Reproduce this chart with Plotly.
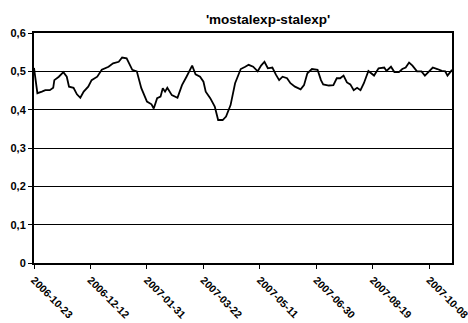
import pandas as pd
import plotly.graph_objects as go

START = "2006-10-23"
day_offsets = [0, 3, 7, 10, 14, 17, 18, 22, 26, 29, 31, 35, 38, 41, 44, 48, 51, 56, 60, 66, 70, 75, 78, 82, 87, 91,
               95, 100, 104, 106, 109, 112, 114, 116, 118, 122, 127, 131, 135, 140, 143, 147, 150, 152, 156, 160,
               163, 167, 170, 174, 178, 183, 187, 190, 194, 198, 201, 204, 207, 211, 214, 217, 220, 224, 227, 231,
               236, 239, 242, 246, 251, 254, 256, 261, 265, 268, 271, 274, 277, 280, 283, 286, 289, 292, 296, 301,
               305, 310, 312, 316, 319, 323, 326, 329, 332, 335, 339, 343, 346, 350, 353, 357, 361, 364, 366, 369, 370]
values = [0.509, 0.443, 0.447, 0.451, 0.451, 0.457, 0.477, 0.486, 0.498, 0.486, 0.460, 0.457, 0.440, 0.431, 0.447,
          0.460, 0.477, 0.486, 0.504, 0.512, 0.521, 0.525, 0.536, 0.534, 0.504, 0.500,
          0.456, 0.421, 0.414, 0.403, 0.430, 0.434, 0.456, 0.447, 0.457, 0.438, 0.431, 0.464, 0.486, 0.515, 0.492,
          0.486, 0.473, 0.447, 0.430, 0.408, 0.373, 0.373, 0.382, 0.412, 0.469, 0.506, 0.512, 0.517, 0.512, 0.500,
          0.515, 0.525, 0.508, 0.510, 0.492, 0.477, 0.486, 0.482, 0.469, 0.460, 0.453, 0.464, 0.495, 0.506, 0.504,
          0.477, 0.466, 0.463, 0.464, 0.482, 0.482, 0.489, 0.471, 0.466, 0.451, 0.457, 0.451, 0.469, 0.501, 0.489,
          0.508, 0.510, 0.501, 0.512, 0.498, 0.498, 0.506, 0.510, 0.523, 0.515, 0.500, 0.500, 0.489, 0.500, 0.510,
          0.506, 0.501, 0.500, 0.489, 0.500, 0.504]

tick_dates = ["2006-10-23", "2006-12-12", "2007-01-31", "2007-03-22", "2007-05-11", "2007-06-30", "2007-08-19", "2007-10-08"]
y_tickvals = [0, 0.1, 0.2, 0.3, 0.4, 0.5, 0.6]
y_ticktext = ["0", "0,1", "0,2", "0,3", "0,4", "0,5", "0,6"]
title_text = "'mostalexp-stalexp'"

start = pd.Timestamp(START)
dates = [start + pd.Timedelta(days=d) for d in day_offsets]

FONT = "Liberation Sans, Arial, sans-serif"

fig = go.Figure()
fig.add_trace(go.Scatter(x=dates, y=values, mode="lines",
                         line=dict(color="black", width=1.8), showlegend=False))

fig.update_layout(
    template="none",
    width=468, height=323,
    margin=dict(l=34, r=16, t=33, b=60, autoexpand=False),
    paper_bgcolor="white", plot_bgcolor="white",
    font=dict(family=FONT, color="black"),
    title=dict(text=title_text, font=dict(family=FONT, size=13.5, weight="bold", color="black"),
               x=268/468, xref="container", xanchor="center",
               y=1 - 19/323, yref="container", yanchor="middle"),
    xaxis=dict(range=[start, start + pd.Timedelta(days=370)],
               tickvals=[pd.Timestamp(d) for d in tick_dates],
               ticktext=tick_dates, automargin=False,
               tickangle=45, ticks="outside", ticklen=4, tickcolor="black", tickwidth=1,
               ticklabelstandoff=1, ticklabeloverflow="allow",
               showgrid=False, showline=True, linecolor="black", linewidth=2, mirror=True,
               tickfont=dict(family=FONT, size=10.5, weight="bold", color="black"),
               zeroline=False),
    yaxis=dict(range=[0, 0.6], tickvals=y_tickvals, ticktext=y_ticktext, automargin=False,
               ticks="outside", ticklen=4, tickcolor="black", tickwidth=1,
               showgrid=True, gridcolor="black", gridwidth=1,
               showline=True, linecolor="black", linewidth=2, mirror=True,
               tickfont=dict(family=FONT, size=11, weight="bold", color="black"),
               zeroline=False),
)

fig.write_html("out.html", config={"displayModeBar": False},
               post_script="document.body.style.margin='0';document.body.style.overflow='hidden';")
